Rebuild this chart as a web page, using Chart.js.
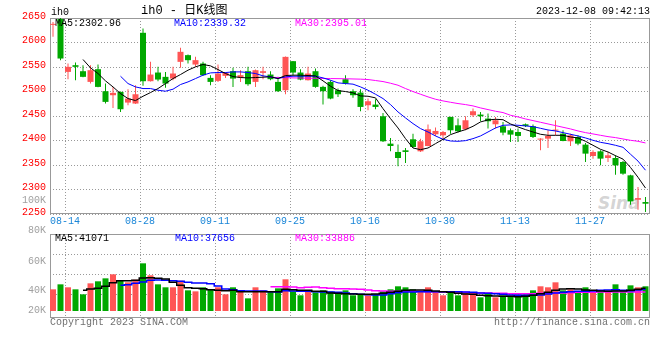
<!DOCTYPE html>
<html>
<head>
<meta charset="utf-8">
<script src="https://cdn.jsdelivr.net/npm/chart.js@4.4.0/dist/chart.umd.min.js"></script>
<style>
  body { margin: 0; background: #fff; }
  #wrap { position: relative; width: 660px; height: 360px; overflow: hidden;
          font-family: "Liberation Mono", "DejaVu Sans Mono", monospace; font-size: 10px; line-height: 10px; }
  #wrap canvas { position: absolute; left: 0; top: 0; }
  .t { position: absolute; white-space: pre; }
  #logo { left: 598px; top: 193px; font: italic bold 17px "DejaVu Sans", sans-serif; color: rgba(160,160,160,0.45); }
</style>
</head>
<body>
<div id="wrap">
  <div class="t" id="logo">Sina</div>
  <canvas id="priceChart" width="660" height="360"></canvas>
  <canvas id="volChart" width="660" height="360"></canvas>
  <div class="t" style="left:51px;top:8px;color:#000">ih0</div>
  <div class="t" style="left:141px;top:5px;font-size:12px;line-height:12px;font-family:'Liberation Mono','Noto Sans CJK SC',monospace;color:#000">ih0 - 日K线图</div>
  <div class="t" style="right:10px;top:7px;color:#000">2023-12-08 09:42:13</div>
  <div class="t" id="pLeg0" style="left:55px;top:19px;color:#000"></div>
  <div class="t" id="pLeg1" style="left:174px;top:19px;color:#0000ff"></div>
  <div class="t" id="pLeg2" style="left:295px;top:19px;color:#ff00ff"></div>
  <div class="t" id="vLeg0" style="left:55px;top:234px;color:#000"></div>
  <div class="t" id="vLeg1" style="left:175px;top:234px;color:#0000ff"></div>
  <div class="t" id="vLeg2" style="left:295px;top:234px;color:#ff00ff"></div>
  <div class="t" style="left:50px;top:318px;color:#707070">Copyright 2023 SINA.COM</div>
  <div class="t" style="right:10px;top:318px;color:#707070">http://finance.sina.com.cn</div>
</div>
<script>
// daily candles, oldest first (one entry per trading day)
const opens = [2636, 2648, 2540, 2553.7, 2541.4, 2519.6, 2545.5, 2500.6, 2492.4, 2499.2,
  2477.4, 2475.4, 2619.8, 2521, 2538.7, 2529.9, 2526.4, 2560.5, 2574.2, 2555,
  2557.1, 2527.8, 2521.7, 2531.9, 2541.4, 2528.5, 2541.4, 2519.6, 2538, 2534.6,
  2519.6, 2502.6, 2561.9, 2538.7, 2523, 2541.4, 2509.4, 2519.6, 2502.6, 2525.1,
  2500.6, 2497.8, 2472, 2473.3, 2449.5, 2393.6, 2376.6, 2380, 2402.5, 2377.9,
  2388.8, 2412.7, 2410.6, 2448.1, 2431, 2422.9, 2451.5, 2452.9, 2444.7, 2433.1,
  2429, 2420.9, 2417.4, 2433.1, 2429, 2401.8, 2403.8, 2420.2, 2414, 2398.4,
  2407.2, 2391.6, 2368.4, 2377.9, 2364.3, 2364.3, 2356.1, 2328.9, 2279.1, 2274.4];
const highs = [2642, 2650, 2557, 2559.2, 2553.7, 2553.7, 2555, 2516.2, 2509.4, 2500,
  2504.7, 2512.8, 2628.6, 2560.5, 2550.3, 2540, 2550.3, 2589.1, 2575.5, 2570.7,
  2560.5, 2533.3, 2555, 2540, 2548.3, 2543.5, 2550.3, 2544.8, 2550.3, 2541.4,
  2529.9, 2571.5, 2562.5, 2545.5, 2550.3, 2546.9, 2511.5, 2523, 2506, 2533.3,
  2504.7, 2504.7, 2485.6, 2484.2, 2456.3, 2405.2, 2391.6, 2384.7, 2414, 2403.8,
  2432.4, 2426.3, 2419.5, 2448.5, 2444.7, 2449.5, 2465.1, 2458.3, 2454.9, 2448.1,
  2437.9, 2424.3, 2424.3, 2434.5, 2432.4, 2404.5, 2420.9, 2441.3, 2420.9, 2414,
  2410.6, 2395, 2380, 2380, 2376.6, 2369.8, 2358.2, 2330.3, 2305, 2284.6];
const lows = [2611.6, 2564, 2525, 2523, 2529, 2516.2, 2508.5, 2475.4, 2466.5, 2458.3,
  2472, 2474.5, 2511.5, 2520.5, 2521, 2507.4, 2523, 2548.3, 2557.1, 2550.3,
  2532, 2512.8, 2519.6, 2527.8, 2509.4, 2519.6, 2511.5, 2509.4, 2525, 2523,
  2499.2, 2494.4, 2533.3, 2523, 2522.5, 2507.4, 2473.3, 2484.2, 2489, 2514.2,
  2487, 2459.7, 2461.7, 2463.8, 2397, 2377.9, 2347.3, 2354.1, 2385.4, 2376.6,
  2388.1, 2409.3, 2403.8, 2414, 2416.1, 2420.9, 2448.1, 2439.3, 2424.3, 2424.3,
  2410.6, 2397, 2397, 2427.6, 2405.2, 2380, 2384.7, 2410.6, 2398.4, 2388.8,
  2390.2, 2356.1, 2363, 2349.3, 2356.1, 2330.3, 2330.3, 2268.9, 2258.7, 2254];
const closes = [2638, 2567.3, 2550.3, 2550.3, 2529.9, 2543.5, 2509.4, 2478.8, 2497.2, 2463.8,
  2485.6, 2494.4, 2521, 2534.6, 2524.4, 2516.2, 2536.7, 2581, 2563.9, 2564,
  2533.3, 2519.6, 2536.7, 2538, 2526.4, 2533.3, 2514.9, 2543.5, 2541.4, 2525.1,
  2500.6, 2570.7, 2538.7, 2524.4, 2536.7, 2509.4, 2500.6, 2485.6, 2494.4, 2516.2,
  2492.4, 2468.5, 2480.1, 2468.5, 2398.4, 2388.8, 2364.3, 2376.6, 2386.8, 2398.4,
  2422.9, 2419.5, 2417.4, 2420.9, 2418.8, 2441.3, 2459.7, 2449.5, 2439.3, 2441.3,
  2416.1, 2412, 2409.3, 2429.7, 2407.2, 2403.8, 2409.3, 2422.2, 2399, 2410.6,
  2393.6, 2373.2, 2376.6, 2363, 2369.8, 2349.3, 2332.3, 2275.7, 2282.5, 2271];

// moving averages as drawn on the price panel
const ma5 = [null, null, null, null, 2565.3, 2548.3, 2536.7, 2521.7, 2509.4, 2495.8,
  2485.6, 2481.5, 2490.3, 2497.8, 2506, 2516.2, 2526.4, 2534.6, 2543.5, 2550.3,
  2555.1, 2552.3, 2544.8, 2536.7, 2530.5, 2528.5, 2527.8, 2528.5, 2529.2, 2529.9,
  2526.4, 2532.6, 2533.3, 2533.3, 2532.6, 2531.9, 2521.7, 2510.8, 2501.9, 2499.9,
  2497.2, 2491, 2490.3, 2487, 2465, 2444.7, 2425.6, 2403.8, 2384.7, 2381.3,
  2384.7, 2393.6, 2402.5, 2412, 2417.4, 2422.2, 2429, 2437.9, 2442, 2443.3,
  2442.5, 2433.8, 2427.7, 2422.2, 2417.4, 2412.7, 2410.6, 2410.6, 2410.6, 2407.2,
  2405.2, 2398.4, 2390.2, 2382, 2376.6, 2369, 2362, 2345, 2325, 2302.96];
const ma10 = [null, null, null, null, null, null, null, null, null, 2531.2,
  2516.2, 2509.4, 2506, 2506, 2502.6, 2500.6, 2504.7, 2514.2, 2519.6, 2526.4,
  2533.3, 2538, 2538.7, 2538.7, 2540, 2540, 2538.7, 2536.7, 2531.9, 2529.9,
  2526.4, 2529.9, 2531.2, 2531.2, 2531.2, 2531.2, 2527.8, 2523, 2517.6, 2516.2,
  2515, 2509.4, 2502.6, 2494.4, 2485.6, 2473.3, 2458.3, 2446.1, 2434.5, 2424.3,
  2417.4, 2409.3, 2402.5, 2399, 2398.4, 2399.7, 2403.8, 2409.3, 2417.4, 2425.6,
  2431, 2431.8, 2431.1, 2429.7, 2428.3, 2424.9, 2421.5, 2419.5, 2416.1, 2412.7,
  2409.3, 2405.2, 2400.4, 2396.3, 2393.6, 2390.2, 2386.1, 2372, 2358, 2339.32];
const ma30 = [null, null, null, null, null, null, null, null, null, null,
  null, null, null, null, null, null, null, null, null, null,
  null, null, null, null, null, null, null, null, null, 2529,
  2528.6, 2528.2, 2527.8, 2527.5, 2527.2, 2527, 2526.7, 2526.4, 2526.2, 2526,
  2525.6, 2525.2, 2524.4, 2522.4, 2520.3, 2516.9, 2512.8, 2506, 2499.9, 2494.4,
  2489, 2484.2, 2480.8, 2478, 2475.4, 2473.3, 2470.6, 2466.5, 2463.1, 2459.7,
  2457, 2451.5, 2448.1, 2444, 2440.6, 2437.2, 2433.8, 2430.4, 2427, 2423.6,
  2419.5, 2416.1, 2413.4, 2410.6, 2407.9, 2405.9, 2403.1, 2400.4, 2398.4, 2395.01];

// volume (lots) and its moving averages
const vols = [36500, 44900, 39900, 36500, 28100, 46600, 50000, 55000, 61800, 51700,
  48300, 52800, 80300, 60100, 44900, 39900, 39900, 51100, 34800, 33100,
  39900, 36500, 39900, 28100, 39900, 34800, 21300, 39900, 34800, 33100,
  38200, 53400, 33100, 26400, 33100, 31500, 34800, 33100, 29200, 34800,
  26400, 28100, 26400, 28100, 33100, 36500, 41600, 39900, 36500, 33100,
  39900, 33100, 26400, 31500, 26400, 31500, 31500, 23000, 29200, 23000,
  26400, 24700, 28100, 28100, 34800, 41600, 39900, 48300, 34800, 36500,
  33100, 39900, 31500, 34800, 34800, 44900, 34800, 43200, 39900, 41600];
const volMa5 = [null, null, null, null, 34800, 37100, 38200, 41600, 47700, 51100,
  51100, 51700, 55600, 56200, 55000, 53900, 48300, 43200, 39300, 38200,
  37600, 35900, 34800, 34300, 34800, 32600, 32600, 32600, 32600, 32600,
  32600, 36500, 35900, 34800, 34800, 33100, 33100, 30300, 29800, 29200,
  28600, 28100, 28100, 28600, 29800, 31500, 33100, 34800, 35400, 35400,
  34800, 33700, 32600, 31500, 29800, 28600, 28100, 26400, 25800, 25300,
  24700, 24700, 24200, 24700, 26400, 29200, 31500, 34800, 37100, 37600,
  37100, 35400, 34800, 33700, 33100, 33700, 33700, 34800, 36500, 38200];
const volMa10 = [null, null, null, null, null, null, null, null, null, 43200,
  44400, 46600, 48900, 51700, 52200, 51700, 51100, 50000, 48300, 47200,
  47200, 46100, 42100, 37100, 35900, 34300, 33700, 33700, 33700, 32600,
  32000, 34300, 33700, 33100, 33100, 32600, 32000, 32000, 31500, 30300,
  29200, 28100, 27500, 27000, 27000, 29200, 30900, 32000, 32000, 32600,
  32600, 32600, 32600, 32600, 32600, 32000, 31500, 30300, 29800, 29200,
  28100, 27000, 26400, 26400, 26400, 27000, 28600, 30300, 31500, 32600,
  33100, 33100, 33700, 34800, 35400, 35900, 34800, 34300, 35400, 36500];
const volMa30 = [null, null, null, null, null, null, null, null, null, null,
  null, null, null, null, null, null, null, null, null, null,
  null, null, null, null, null, null, null, null, null, 41000,
  41000, 41000, 40400, 39300, 39900, 40400, 39300, 38200, 37600, 37600,
  37100, 36500, 35400, 34300, 33700, 33100, 33100, 33100, 33100, 33100,
  32600, 32600, 32000, 32000, 32000, 31500, 30900, 30300, 30300, 29800,
  29800, 29200, 29200, 29200, 29200, 29800, 29800, 30300, 30300, 30900,
  31500, 31500, 31500, 32000, 32000, 32000, 32000, 32000, 32000, 32000];

// axis labels
const tickLabels = ['08-14', '08-28', '09-11', '09-25', '10-16', '10-30', '11-13', '11-27'];
const tickPos = [1.6, 11.6, 21.6, 31.6, 41.6, 51.6, 61.6, 71.6];
const volTickLabels = ['20K', '40K', '60K', '80K', '100K'];
const volTickVals = [500, 34900, 84300, 135200, 187000];
const volGridVals = [27000, 60700, 94400];
const priceLegend = ['MA5:2302.96', 'MA10:2339.32', 'MA30:2395.01'];
const volLegend = ['MA5:41071', 'MA10:37656', 'MA30:33886'];

const upColor = '#ff5555';
const downColor = '#00a800';
const gridColor = '#999999';
const monoFont = { family: '"Liberation Mono", "DejaVu Sans Mono", monospace', size: 10 };

const candleColors = opens.map((o, i) => closes[i] >= o ? upColor : downColor);
const pts = arr => arr.map((v, i) => ({ x: i, y: v }));

priceLegend.forEach((t, i) => { document.getElementById('pLeg' + i).textContent = t; });
volLegend.forEach((t, i) => { document.getElementById('vLeg' + i).textContent = t; });

// grey box round each panel
const framePlugin = {
    id: 'frame',
    beforeDatasetsDraw(chart) {
        const { ctx, chartArea: a } = chart;
        ctx.save();
        ctx.strokeStyle = '#999';
        ctx.lineWidth = 1;
        ctx.strokeRect(a.left + 0.5, a.top + 0.5, a.width - 1, a.height - 1);
        ctx.restore();
    }
};

// sina puts its volume labels off the grid, so draw them through the scale
const volTickPlugin = {
    id: 'volTicks',
    afterDraw(chart) {
        const s = chart.scales.y;
        const ctx = chart.ctx;
        ctx.save();
        ctx.font = '10px "Liberation Mono", "DejaVu Sans Mono", monospace';
        ctx.fillStyle = '#a0a0a0';
        ctx.textAlign = 'right';
        ctx.textBaseline = 'middle';
        volTickLabels.forEach((t, i) => ctx.fillText(t, s.right - 4, s.getPixelForValue(volTickVals[i])));
        ctx.restore();
    }
};

function xScale(showLabels) {
    return {
        type: 'linear',
        min: -0.4,
        max: 79.6,
        offset: false,
        afterBuildTicks: s => { s.ticks = tickPos.map(v => ({ value: v })); },
        afterFit: s => { s.height = showLabels ? 20 : 0; },
        ticks: {
            display: showLabels,
            autoSkip: false,
            maxRotation: 0,
            padding: 1,
            color: '#1a86d8',
            font: monoFont,
            callback: (v, i) => tickLabels[i]
        },
        grid: { color: gridColor, drawTicks: false, offset: false },
        border: { display: false, dash: [1, 2] }
    };
}

function lineSet(label, data, color, width, stepped) {
    return {
        type: 'line',
        label: label,
        data: pts(data),
        borderColor: color,
        borderWidth: width,
        pointRadius: 0,
        tension: 0,
        stepped: stepped,
        order: 0
    };
}

// price panel
new Chart(document.getElementById('priceChart'), {
    type: 'bar',
    data: {
        datasets: [
            lineSet('MA5', ma5, '#000000', 1, false),
            lineSet('MA10', ma10, '#0000ff', 1, false),
            lineSet('MA30', ma30, '#ff00ff', 1, false),
            {
                label: 'wick',
                data: lows.map((l, i) => ({ x: i, y: [l, highs[i]] })),
                backgroundColor: candleColors,
                barThickness: 1,
                grouped: false,
                inflateAmount: 0,
                order: 2
            },
            {
                label: 'body',
                data: opens.map((o, i) => ({ x: i, y: [o, closes[i]] })),
                backgroundColor: candleColors,
                barThickness: 6,
                minBarLength: 1,
                grouped: false,
                inflateAmount: 0,
                order: 1
            }
        ]
    },
    options: {
        responsive: false,
        animation: false,
        devicePixelRatio: 1,
        events: [],
        layout: { padding: { top: 18, right: 10, bottom: 126, left: 0 } },
        plugins: { legend: { display: false }, tooltip: { enabled: false } },
        scales: {
            x: xScale(true),
            y: {
                min: 2250,
                max: 2650,
                afterFit: s => { s.width = 50; },
                ticks: {
                    stepSize: 50,
                    color: '#ff0000',
                    font: monoFont,
                    padding: 4,
                    labelOffset: -2,
                    callback: v => String(v)
                },
                grid: { color: gridColor, drawTicks: false },
                border: { display: false, dash: [1, 2] }
            }
        }
    },
    plugins: [framePlugin]
});

// volume panel
new Chart(document.getElementById('volChart'), {
    type: 'bar',
    data: {
        datasets: [
            lineSet('MA5', volMa5, '#000000', 1.5, 'middle'),
            lineSet('MA10', volMa10, '#0000ff', 1.5, 'middle'),
            lineSet('MA30', volMa30, '#ff00ff', 1.5, 'middle'),
            {
                label: 'volume',
                data: pts(vols),
                backgroundColor: candleColors,
                barThickness: 6,
                inflateAmount: 0,
                order: 1
            }
        ]
    },
    options: {
        responsive: false,
        animation: false,
        devicePixelRatio: 1,
        events: [],
        layout: { padding: { top: 234, right: 10, bottom: 42, left: 0 } },
        plugins: { legend: { display: false }, tooltip: { enabled: false } },
        scales: {
            x: xScale(false),
            y: {
                min: -11800,
                max: 129700,
                afterFit: s => { s.width = 50; },
                afterBuildTicks: s => { s.ticks = volGridVals.map(v => ({ value: v })); },
                ticks: { display: false },
                grid: { color: gridColor, drawTicks: false },
                border: { display: false, dash: [1, 2] }
            }
        }
    },
    plugins: [framePlugin, volTickPlugin]
});
</script>
</body>
</html>
